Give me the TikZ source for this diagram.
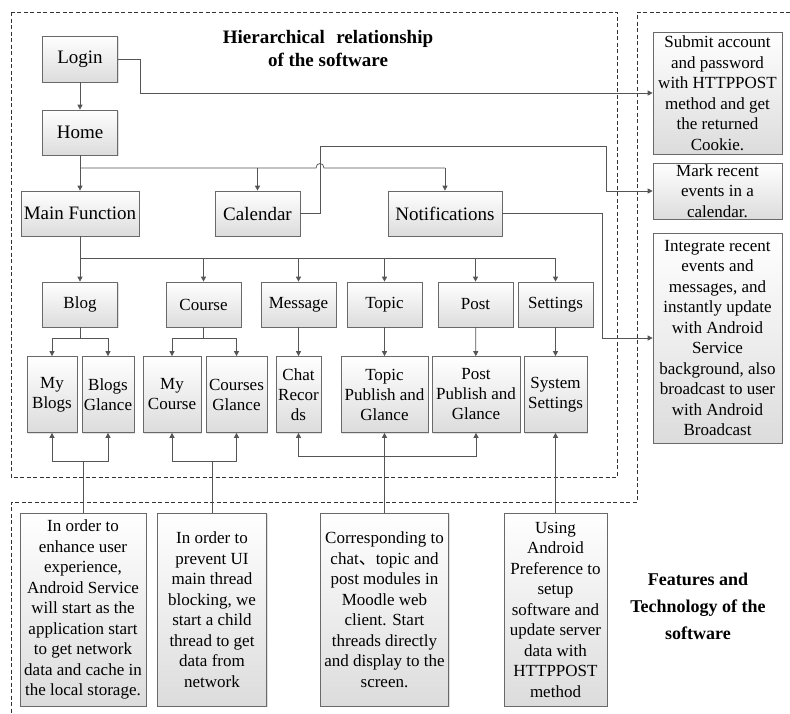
\documentclass[tikz,border=0pt]{standalone}
\usepackage{fontspec}
\setmainfont{Liberation Serif}
\newfontfamily\cjkfont{Noto Sans CJK SC}
\usetikzlibrary{arrows.meta, shadows}
\definecolor{boxedge}{RGB}{105,105,105}
\definecolor{wiregray}{RGB}{85,85,85}
\definecolor{boxshade}{RGB}{220,220,220}
\tikzset{
    swbox/.style={rectangle, draw=boxedge, top color=white, bottom color=boxshade, inner sep=0pt, align=center, line width=0.7pt, drop shadow={opacity=0.25, shadow xshift=1.2pt, shadow yshift=-1.2pt}},
    swmain/.style={swbox, font=\fontsize{19}{23}\selectfont},
    swsub/.style={swbox, font=\fontsize{17}{20}\selectfont},
    swnote/.style={swbox, font=\fontsize{17}{20.5}\selectfont},
    swarrow/.style={-{Triangle[length=5pt, width=5pt]}, draw=wiregray, line width=0.75pt},
    swline/.style={draw=wiregray, line width=0.75pt},
    swzone/.style={draw=black!80, line width=0.6pt, dash pattern=on 4pt off 2.5pt},
    swtitle/.style={font=\fontsize{19}{23.5}\selectfont\bfseries, align=center}
}

\begin{document}
\begin{tikzpicture}[x=1pt, y=-1pt]
\useasboundingbox (0,0) rectangle (790,713);

\draw[swzone] (11,12) rectangle (617,477);
\draw[swzone] (790,12) -- (637,12) -- (637,502) -- (11,502) -- (11,713);

\node[swtitle] (hiertitle) at (328,48.5) {Hierarchical\hspace{0.6em}relationship\\of the software};
\node[swtitle, font=\fontsize{18}{27}\selectfont\bfseries] (feattitle) at (698,606) {Features and\\Technology of the\\software};

\node[swmain, minimum width=75pt, minimum height=46pt] (login) at (80,59) {Login};
\node[swmain, minimum width=75pt, minimum height=45pt] (home) at (80,132.5) {Home};
\node[swmain, minimum width=118pt, minimum height=45pt] (mainf) at (80,213.5) {Main Function};
\node[swmain, minimum width=85pt, minimum height=45pt] (cal) at (257.5,213.5) {Calendar};
\node[swmain, minimum width=114pt, minimum height=45pt] (notif) at (445,213.5) {Notifications};

\node[swsub, minimum width=75pt, minimum height=45pt] (blog) at (80,304.5) {Blog};
\node[swsub, minimum width=75pt, minimum height=45pt] (course) at (203.5,304.5) {Course};
\node[swsub, minimum width=75pt, minimum height=45pt] (msg) at (298.5,304.5) {Message};
\node[swsub, minimum width=75pt, minimum height=45pt] (topic) at (384.5,304.5) {Topic};
\node[swsub, minimum width=75pt, minimum height=45pt] (post) at (475.5,304.5) {Post};
\node[swsub, minimum width=75pt, minimum height=45pt] (sett) at (555.5,304.5) {Settings};

\node[swsub, minimum width=50pt, minimum height=76pt] (myblogs) at (52,394.5) {My\\Blogs};
\node[swsub, minimum width=52pt, minimum height=76pt] (blogsg) at (108,394.5) {Blogs\\Glance};
\node[swsub, minimum width=58pt, minimum height=76pt] (mycourse) at (172,394.5) {My\\Course};
\node[swsub, minimum width=61pt, minimum height=76pt] (coursesg) at (236.5,394.5) {Courses\\Glance};
\node[swsub, minimum width=45pt, minimum height=76pt] (chat) at (298.5,394.5) {Chat\\Recor\\ds};
\node[swsub, minimum width=87pt, minimum height=76pt] (topicpg) at (384.5,394.5) {Topic\\Publish and\\Glance};
\node[swsub, minimum width=88pt, minimum height=76pt] (postpg) at (476,394.5) {Post\\Publish and\\Glance};
\node[swsub, minimum width=63pt, minimum height=76pt] (sysset) at (555.5,394.5) {System\\Settings};

\node[swnote, minimum width=129pt, minimum height=122pt] (submit) at (717.5,93) {Submit account\\and password\\with HTTPPOST\\method and get\\the returned\\Cookie.};
\node[swnote, minimum width=129pt, minimum height=56pt] (mark) at (717.5,191) {Mark recent\\events in a\\calendar.};
\node[swnote, minimum width=129pt, minimum height=210pt] (integ) at (717.5,338) {Integrate recent\\events and\\messages, and\\instantly update\\with Android\\Service\\background, also\\broadcast to user\\with Android\\Broadcast};

\node[swnote, minimum width=126pt, minimum height=193pt] (note1) at (83,609.5) {In order to\\enhance user\\experience,\\Android Service\\will start as the\\application start\\to get network\\data and cache in\\the local storage.};
\node[swnote, minimum width=109pt, minimum height=193pt] (note2) at (212,609.5) {In order to\\prevent UI\\main thread\\blocking, we\\start a child\\thread to get\\data from\\network};
\node[swnote, minimum width=128pt, minimum height=193pt] (note3) at (384.5,609.5) {Corresponding to\\chat{\cjkfont 、}topic and\\post modules in\\Moodle web\\client. Start\\threads directly\\and display to the\\screen.};
\node[swnote, minimum width=103pt, minimum height=193pt] (note4) at (555.5,609.5) {Using\\Android\\Preference to\\setup\\software and\\update server\\data with\\HTTPPOST\\method};

\coordinate (hbus) at (80,168);
\coordinate (hop) at (320,168);
\coordinate (logk) at (140,93);
\coordinate (calk) at (320,146);
\coordinate (calr) at (606,146);
\coordinate (notk) at (602,338);
\coordinate (mbus) at (80,258);
\coordinate (bbus) at (80,338);
\coordinate (cbus) at (203.5,338);
\coordinate (bbot) at (83,461);
\coordinate (cbot) at (212,461);
\coordinate (tbot) at (384.5,456);

\draw[swarrow] (login) -- (home);
\draw[swarrow] (home) -- (mainf);
\draw[swline] (hbus) -- ([xshift=-4pt]hop) .. controls ([xshift=-4pt, yshift=6pt]hop) and ([xshift=4pt, yshift=6pt]hop) .. ([xshift=4pt]hop) -- (notif.north |- hbus);
\draw[swarrow] (cal.north |- hbus) -- (cal.north);
\draw[swarrow] (notif.north |- hbus) -- (notif.north);

\draw[swarrow] (login.east) -| (logk) -- (submit.west);
\draw[swarrow] (cal.east) -| (calk) -- (calr) |- (mark.west);
\draw[swarrow] (notif.east) -| (notk) -- (integ.west);

\draw[swline] (mainf.south) -- (mbus) -- (sett.north |- mbus);
\foreach \n in {blog, course, msg, topic, post, sett}
    \draw[swarrow] (\n.north |- mbus) -- (\n.north);

\draw[swline] (blog.south) -- (bbus);
\draw[swarrow] (bbus) -| (myblogs.north);
\draw[swarrow] (bbus) -| (blogsg.north);
\draw[swline] (course.south) -- (cbus);
\draw[swarrow] (cbus) -| (mycourse.north);
\draw[swarrow] (cbus) -| (coursesg.north);
\draw[swarrow] (msg) -- (chat);
\draw[swarrow] (topic) -- (topicpg);
\draw[swarrow] (post) -- (postpg);
\draw[swarrow] (sett) -- (sysset);

\draw[swline] (note1.north) -- (bbot);
\draw[swarrow] (bbot) -| (myblogs.south);
\draw[swarrow] (bbot) -| (blogsg.south);
\draw[swline] (note2.north) -- (cbot);
\draw[swarrow] (cbot) -| (mycourse.south);
\draw[swarrow] (cbot) -| (coursesg.south);
\draw[swarrow] (tbot) -| (chat.south);
\draw[swarrow] (tbot) -| (postpg.south);
\draw[swarrow] (note3.north) -- (topicpg.south);
\draw[swarrow] (note4.north) -- (sysset.south);

\end{tikzpicture}
\end{document}
